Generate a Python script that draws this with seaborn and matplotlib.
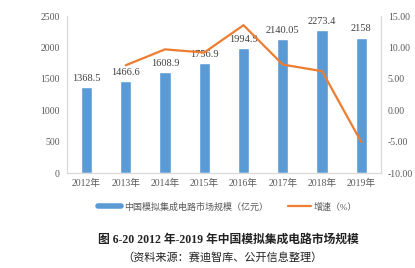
import numpy as np
import pandas as pd
import matplotlib
matplotlib.use("Agg")
import matplotlib.pyplot as plt
from matplotlib.lines import Line2D
from matplotlib.ticker import FuncFormatter, MultipleLocator
import seaborn as sns

years = ["2012年", "2013年", "2014年", "2015年", "2016年", "2017年", "2018年", "2019年"]
market_size = [1368.5, 1466.6, 1608.9, 1756.9, 1994.9, 2140.05, 2273.4, 2158]
growth = [np.nan, 7.17, 9.70, 9.20, 13.55, 7.28, 6.23, -5.07]
bar_label = "中国模拟集成电路市场规模（亿元）"
line_label = "增速（%）"
title = "图 6-20 2012 年-2019 年中国模拟集成电路市场规模"
source = "（资料来源：赛迪智库、公开信息整理）"

sns.set_theme(style="white")
plt.rcParams["font.family"] = ["Liberation Serif", "Noto Sans CJK SC", "DejaVu Sans"]

BLUE = "#5B9BD5"
ORANGE = "#ED7D31"
GRAY = "#595959"
SPINE = "#D9D9D9"

df = pd.DataFrame({"year": years, "size": market_size, "growth": growth})

fig = plt.figure(figsize=(4.15, 2.68), dpi=100)
ax = fig.add_axes([0.161, 0.354, 0.757, 0.586])
sns.barplot(data=df, x="year", y="size", order=years, color=BLUE, width=0.29,
            saturation=1, ax=ax)
ax.set_ylim(0, 2500)
ax.yaxis.set_major_locator(MultipleLocator(500))
ax.set_xlabel("")
ax.set_ylabel("")
for i, v in enumerate(market_size):
    ax.annotate(f"{v:g}", (i, v), xytext=(0, 3), textcoords="offset points",
                ha="center", va="bottom", fontsize=7.5, color="#404040")

ax2 = ax.twinx()
sns.pointplot(data=df, x="year", y="growth", order=years, color=ORANGE,
              markersize=0, linewidth=1.6, errorbar=None, ax=ax2)
ax2.set_ylim(-10, 15)
ax2.yaxis.set_major_locator(MultipleLocator(5))
ax2.yaxis.set_major_formatter(FuncFormatter(lambda v, p: f"{v:.2f}"))
ax2.set_ylabel("")
ax2.set_xlabel("")
ax.set_xlim(-0.5, 7.5)
ax2.set_xlim(-0.5, 7.5)

for a in (ax, ax2):
    for s in a.spines.values():
        s.set_color(SPINE)
        s.set_linewidth(0.8)
    a.spines["top"].set_visible(False)
    a.tick_params(axis="both", length=0, labelsize=7, labelcolor=GRAY, pad=5)
ax.tick_params(axis="x", labelsize=7, pad=4)

handles = [Line2D([], [], color=BLUE, lw=4), Line2D([], [], color=ORANGE, lw=1.6)]
fig.legend(handles, [bar_label, line_label], loc="center", bbox_to_anchor=(0.548, 0.228),
           ncol=2, frameon=False, fontsize=6.5, labelcolor=GRAY,
           handlelength=2.6, columnspacing=2.2, handletextpad=0.3)

fig.text(0.55, 0.104, title, ha="center", va="center", fontsize=8.5, color="#222222",
         fontweight="bold")
fig.text(0.535, 0.041, source, ha="center", va="center", fontsize=8, color="#222222",
         fontweight="medium")

fig.savefig("out.png", dpi=100)
